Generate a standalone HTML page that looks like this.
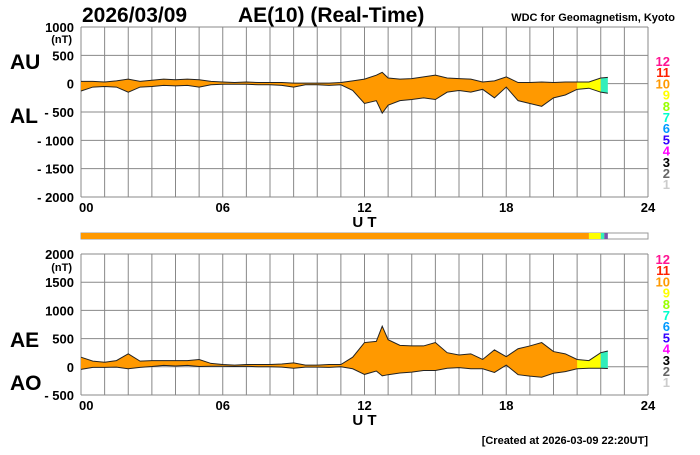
<!DOCTYPE html>
<html><head><meta charset="utf-8"><style>
body{margin:0;background:#fff;}
svg{font-family:"Liberation Sans",Arial,sans-serif;font-weight:bold;}
</style></head><body>
<svg id="c" width="700" height="450" viewBox="0 0 700 450"></svg>
<script>
const hours=[0,0.5,1,1.5,2,2.5,3,3.5,4,4.5,5,5.5,6,6.5,7,7.5,8,8.5,9,9.5,10,10.5,11,11.5,12,12.5,12.75,13,13.5,14,14.5,15,15.5,16,16.5,17,17.5,18,18.5,19,19.5,20,20.5,21,21.5,22,22.3];
const auValues=[40,40,30,50,80,40,60,80,70,80,70,40,30,20,30,20,20,20,10,10,10,10,20,50,80,150,200,100,80,90,120,150,100,90,80,30,50,120,20,20,30,20,30,30,30,100,110];
const alValues=[-130,-60,-50,-60,-150,-60,-50,-30,-40,-30,-60,-20,-10,-10,-10,-20,-20,-30,-60,-20,-20,-30,-20,-120,-350,-300,-520,-380,-300,-280,-250,-280,-150,-120,-150,-100,-250,-60,-300,-350,-400,-250,-200,-100,-80,-150,-170];
const topTicks=[1000,500,0,-500,-1000,-1500,-2000];
const botTicks=[2000,1500,1000,500,0,-500];
const xTicks=["00","06","12","18","24"];
const legendLabels=["12","11","10","9","8","7","6","5","4","3","2","1"];
const legendColors=["#ff1493","#ff2000","#ff9900","#ffff00","#99ff00","#00ffcc","#0099ff","#3300ff","#ff00ff","#000","#666","#ccc"];
const NS="http://www.w3.org/2000/svg";
const svg=document.getElementById('c');
function el(t,a,txt){const e=document.createElementNS(NS,t);for(const k in a)e.setAttribute(k,a[k]);if(txt!==undefined)e.textContent=txt;svg.appendChild(e);return e;}
const X0=81,X1=648;
const x=h=>X0+(X1-X0)*h/24;
const yTop=v=>27+(1000-v)*(197-27)/3000;
const yBot=v=>254+(2000-v)*(395-254)/2500;
const aeValues=auValues.map((u,i)=>u-alValues[i]);
const aoValues=auValues.map((u,i)=>(u+alValues[i])/2);

function panel(name,yf,vmax,vmin,ticks,upper,lower,ly0,labA,labB,labAy,labBy,unitY){
  const y0=yf(vmax),y1=yf(vmin);
  for(let h=0;h<=24;h++){const l=el('line',{x1:x(h),x2:x(h),y1:y0,y2:y1,stroke:'#888','stroke-width':1});
    }
  ticks.forEach(t=>{const l=el('line',{x1:X0,x2:X1,y1:yf(t),y2:yf(t),stroke:'#888','stroke-width':1});
    
    const lab=t<0?'- '+(-t):String(t);
    const tx=el('text',{x:74,y:yf(t)+5,'text-anchor':'end','font-size':13},lab);
    });
  const u=el('text',{x:72,y:unitY,'text-anchor':'end','font-size':11},'(nT)');
  
  const segs=[[0,21.5,'#ff9900'],[21.5,22.1,'#ffff00'],[22.1,22.4,'#33eebb']];
  segs.forEach(s=>{
    const idx=hours.map((h,i)=>i).filter(i=>hours[i]>=s[0]-1e-9&&hours[i]<=s[1]+1e-9);
    if(s[0]>0){const p=hours.findIndex(h=>h>=s[0]);if(p>0&&!idx.includes(p-1))idx.unshift(p-1);}
    const up=idx.map(i=>x(hours[i])+','+yf(upper[i]));
    const lo=idx.slice().reverse().map(i=>x(hours[i])+','+yf(lower[i]));
    const pg=el('polygon',{points:up.concat(lo).join(' '),fill:s[2],stroke:'none'});
    
  });
  const l1=el('polyline',{points:hours.map((h,i)=>x(h)+','+yf(upper[i])).join(' '),fill:'none',stroke:'#222','stroke-width':1});
  
  const l2=el('polyline',{points:hours.map((h,i)=>x(h)+','+yf(lower[i])).join(' '),fill:'none',stroke:'#222','stroke-width':1});
  
  xTicks.forEach((t,i)=>{const tx=el('text',{x:x(i*6),y:y1+15,'text-anchor':i==0?'start':'middle','font-size':13},t);
    if(i==0)tx.setAttribute('x',X0-2);
    });
  const ut=el('text',{x:x(12),y:y1+30,'text-anchor':'middle','font-size':15},'U T');
  
  const a=el('text',{x:10,y:labAy,'font-size':21},labA);
  
  const b=el('text',{x:10,y:labBy,'font-size':21},labB);
  
  legendLabels.forEach((t,i)=>{const tx=el('text',{x:670,y:ly0+i*11.2,'text-anchor':'end','font-size':13,fill:legendColors[i]},t);
    });
}
panel('top-panel',yTop,1000,-2000,topTicks,auValues,alValues,66,'AU','AL',69,123,43);
panel('bottom-panel',yBot,2000,-500,botTicks,aeValues,aoValues,264,'AE','AO',347,390,271);

const t1=el('text',{x:82,y:22,'font-size':21},'2026/03/09');

const t2=el('text',{x:238,y:22,'font-size':21},'AE(10) (Real-Time)');

const t3=el('text',{x:675,y:21,'text-anchor':'end','font-size':11},'WDC for Geomagnetism, Kyoto');

const t4=el('text',{x:648,y:444,'text-anchor':'end','font-size':11},'[Created at 2026-03-09 22:20UT]');


const bar=el('rect',{x:X0,y:233,width:X1-X0,height:6,fill:'#fff',stroke:'#999','stroke-width':1});

[[0,21.5,'#ff9900'],[21.5,22.0,'#ffff00'],[22.0,22.15,'#33eebb'],[22.15,22.3,'#7755aa']].forEach(s=>{
  const r=el('rect',{x:x(s[0]),y:233,width:x(s[1])-x(s[0]),height:6,fill:s[2]});
  });
</script>
</body></html>
